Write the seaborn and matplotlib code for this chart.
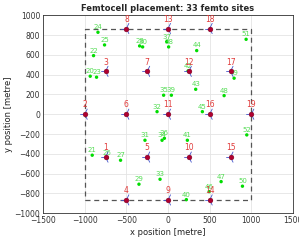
import numpy as np
import pandas as pd
import matplotlib
matplotlib.use('Agg')
import matplotlib.pyplot as plt
import seaborn as sns

# macro sites (red)
macro_id = list(range(1, 20))
macro_x = [-750, -1000, -750, -500, -250, -500, -250, -500, 0, 250,
           0, 250, 0, 500, 750, 500, 750, 500, 1000]
macro_y = [-433, 0, 433, -866, -433, 0, 433, 866, -866, -433,
           0, 433, 866, -866, -433, 0, 433, 866, 0]

# femto sites (green)
femto_id = list(range(20, 53))
femto_x = [-934, -910, -894, -858, -841, -762, -730, -570, -341, -349,
           -305, -277, -132, -96, -72, -53, -44, -16, 7, 40,
           220, 232, 240, 332, 344, 412, 493, 637, 673, 793,
           893, 937, 945]
femto_y = [384, -414, 592, 374, 828, 700, -441, -465, 690, -707,
           680, -263, 26, -657, -263, 192, -243, 733, 680, 192,
           -863, -263, 437, 252, 643, 26, -782, -681, 188, 364,
           -727, 757, -209]

box_x = [-1000, 1000, 1000, -1000, -1000]
box_y = [-866, -866, 866, 866, -866]

df_macro = pd.DataFrame({'id': macro_id, 'x': macro_x, 'y': macro_y})
df_femto = pd.DataFrame({'id': femto_id, 'x': femto_x, 'y': femto_y})

sns.set_style('whitegrid')
plt.rcParams['font.family'] = ['DejaVu Sans']

fig = plt.figure(figsize=(2.99, 2.42), dpi=100)
ax = fig.add_axes([0.144, 0.119, 0.836, 0.818])

# area boundary
ax.plot(box_x, box_y, ls='--', color='#555555', lw=0.9, dashes=(4, 3), zorder=2)

# femto dots and labels
sns.scatterplot(data=df_femto, x='x', y='y', color='#00dd00', s=6,
                edgecolor='none', ax=ax, zorder=3)
for _, r in df_femto.iterrows():
    ax.annotate(str(r['id']), (r['x'], r['y']), textcoords='offset points',
                xytext=(0, 1.5), ha='center', va='bottom', fontsize=5,
                color='#55dd55', zorder=4)

# macro sectors (short blue lines) and markers
for _, r in df_macro.iterrows():
    for ang in [60, 180, 300]:
        a = np.deg2rad(ang)
        ax.plot([r['x'], r['x'] + 60 * np.cos(a)], [r['y'], r['y'] + 60 * np.sin(a)],
                color='#4455cc', lw=0.6, zorder=4)
sns.scatterplot(data=df_macro, x='x', y='y', color='#b00030', s=12,
                edgecolor='#700020', linewidth=0.3, ax=ax, zorder=5)
for _, r in df_macro.iterrows():
    ax.annotate(str(r['id']), (r['x'], r['y']), textcoords='offset points',
                xytext=(0, 3.5), ha='center', va='bottom', fontsize=5.5,
                color='#e03a3a', zorder=6)

ax.set_xlim(-1500, 1500)
ax.set_ylim(-1000, 1000)
ax.set_xticks(np.arange(-1500, 1501, 500))
ax.set_yticks(np.arange(-1000, 1001, 200))
ax.tick_params(labelsize=5.5, colors='#333333', length=2, direction='in', pad=2)
ax.grid(True, color='#e4e4e4', lw=0.6)
for s in ax.spines.values():
    s.set_color('#333333')
    s.set_linewidth(0.6)
ax.set_xlabel('x position [metre]', fontsize=6, color='#222222', labelpad=2)
ax.set_ylabel('y position [metre]', fontsize=6, color='#222222', labelpad=1)
ax.set_title('Femtocell placement: 33 femto sites', fontsize=6, fontweight='bold', pad=3)

fig.savefig('out.png', dpi=100)
